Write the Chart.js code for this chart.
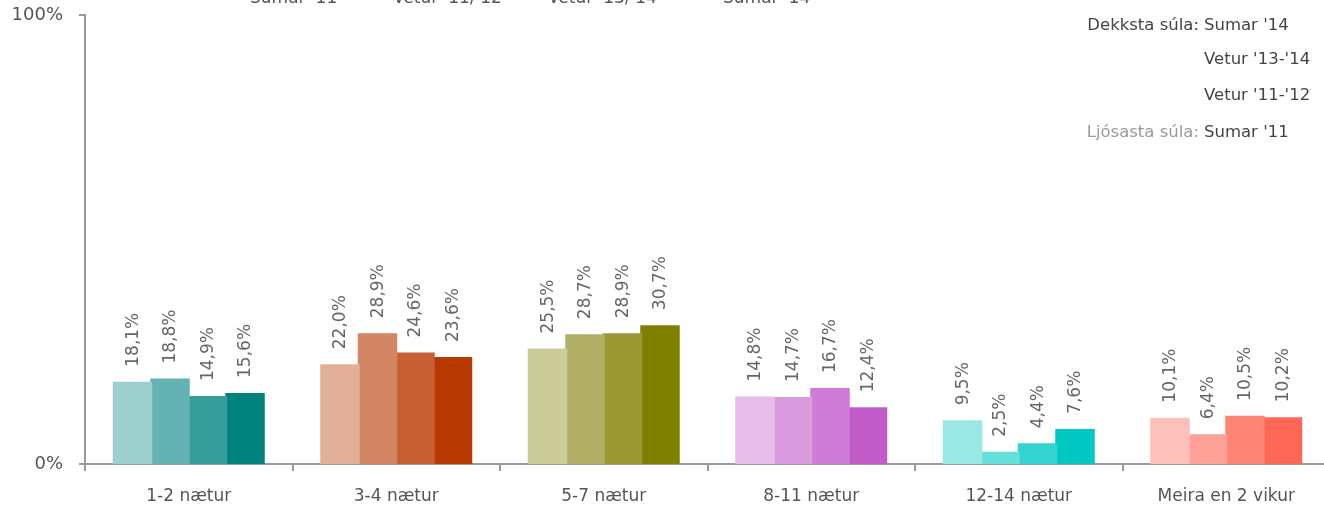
<!DOCTYPE html>
<html>
<head>
<meta charset="utf-8">
<script src="https://cdn.jsdelivr.net/npm/chart.js@4"></script>
<style>
  html, body { margin: 0; padding: 0; background: #fff; overflow: hidden; }
  #wrap { width: 1332px; height: 508px; }
</style>
</head>
<body>
<div id="wrap"><canvas id="nightsChart" width="1332" height="508"></canvas></div>
<script>
// gistinætur eftir tímabilum
const categories = ['1-2 nætur', '3-4 nætur', '5-7 nætur', '8-11 nætur', '12-14 nætur', 'Meira en 2 vikur'];
const seriesNames = ["Sumar '11", "Vetur '11/'12", "Vetur '13/'14", "Sumar '14"];
const sumar11 = [18.1, 22.0, 25.5, 14.8, 9.5, 10.1];
const vetur1112 = [18.8, 28.9, 28.7, 14.7, 2.5, 6.4];
const vetur1314 = [14.9, 24.6, 28.9, 16.7, 4.4, 10.5];
const sumar14 = [15.6, 23.6, 30.7, 12.4, 7.6, 10.2];
const yTicks = [0, 100];

// litir: ljósasta -> dekksta súla í hverjum flokki
const shades = [
    ['#9CCFCE', '#E2B098', '#CCCC99', '#E6BDE8', '#9AE8E4', '#FEC0B8'],
    ['#65B2B2', '#D38663', '#B1AF66', '#DA9ADE', '#66E0DB', '#FEA298'],
    ['#359D9A', '#C65F33', '#9A9933', '#CD7BD5', '#33D4CF', '#FE8576'],
    ['#00827F', '#B83A02', '#808000', '#C15BC7', '#00C8C2', '#FE6755']
];

const FONT = '"DejaVu Sans", sans-serif';
const fmt = v => v.toFixed(1).replace('.', ',') + '%';

const valueLabels = {
    id: 'valueLabels',
    afterDatasetsDraw(chart) {
        const ctx = chart.ctx;
        ctx.save();
        ctx.font = '17px ' + FONT;
        ctx.fillStyle = '#666';
        ctx.textAlign = 'left';
        ctx.textBaseline = 'middle';
        chart.data.datasets.forEach((ds, i) => {
            chart.getDatasetMeta(i).data.forEach((bar, j) => {
                ctx.save();
                ctx.translate(bar.x + 1, bar.y - 16);
                ctx.rotate(-Math.PI / 2);
                ctx.fillText(fmt(ds.data[j]), 0, 0);
                ctx.restore();
            });
        });
        ctx.restore();
    }
};

const notes = {
    id: 'notes',
    afterDraw(chart) {
        const ctx = chart.ctx;
        ctx.save();
        ctx.font = '17px ' + FONT;
        ctx.textBaseline = 'alphabetic';
        // efri skýringar, skornar af efst
        ctx.fillStyle = '#555';
        ctx.textAlign = 'left';
        const legendX = [250, 393, 548, 723];
        seriesNames.forEach((n, i) => ctx.fillText(n, legendX[i], 3));

        ctx.font = '16.5px ' + FONT;
        ctx.textBaseline = 'middle';
        ctx.textAlign = 'right';
        ctx.fillStyle = '#444';
        ctx.fillText('Dekksta súla:', 1199, 26);
        ctx.fillStyle = '#999';
        ctx.fillText('Ljósasta súla:', 1199, 133);
        ctx.textAlign = 'left';
        ctx.fillStyle = '#444';
        const right = [[seriesNames[3], 26], ["Vetur '13-'14", 60], ["Vetur '11-'12", 96], ["Sumar '11", 133]];
        right.forEach(([t, y]) => ctx.fillText(t, 1204, y));
        ctx.restore();
    }
};

const data = [sumar11, vetur1112, vetur1314, sumar14];

new Chart(document.getElementById('nightsChart'), {
    type: 'bar',
    data: {
        labels: categories,
        datasets: data.map((d, i) => ({
            label: seriesNames[i],
            data: d,
            backgroundColor: shades[i],
            borderWidth: 0,
            inflateAmount: 1,
            categoryPercentage: 0.723,
            barPercentage: 1.0
        }))
    },
    options: {
        responsive: false,
        animation: false,
        layout: { padding: { top: 15, right: 2, left: 0, bottom: 0 } },
        plugins: { legend: { display: false }, tooltip: { enabled: false } },
        scales: {
            x: {
                offset: true,
                grid: { offset: true, drawOnChartArea: false, tickLength: 7, color: '#999', lineWidth: 2 },
                border: { color: '#999', width: 2 },
                ticks: { font: { family: FONT, size: 17 }, color: '#555', padding: 15 },
                afterFit(s) { s.height = 44; s.paddingLeft = 0; s.paddingRight = 0; }
            },
            y: {
                min: 0,
                max: 100,
                afterBuildTicks(s) { s.ticks = yTicks.map(v => ({ value: v })); },
                grid: { drawOnChartArea: false, tickLength: 6, color: '#999', lineWidth: 2 },
                border: { color: '#999', width: 2 },
                ticks: { font: { family: FONT, size: 18 }, color: '#555', padding: 16, callback: v => v + '%' },
                afterFit(s) { s.width = 85; s.paddingTop = 0; s.paddingBottom = 0; }
            }
        }
    },
    plugins: [valueLabels, notes]
});
</script>
</body>
</html>
